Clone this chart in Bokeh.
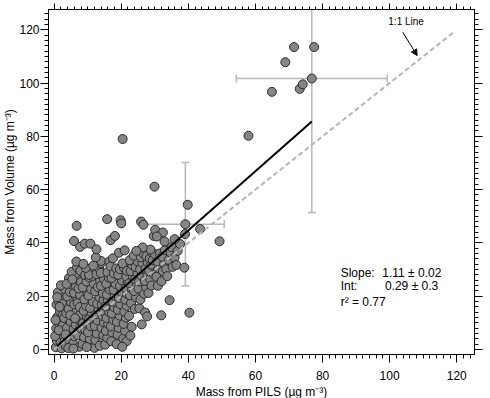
from bokeh.plotting import figure
from bokeh.models import (Range1d, LinearAxis, Whisker, TeeHead, ColumnDataSource,
                          Label, Arrow, NormalHead, FixedTicker, Title)
from bokeh.embed import file_html
from bokeh.resources import INLINE

# Aerosol mass: PILS-derived (x) vs volume-derived (y), in µg m-3
band_0_3 = [(0.5, 0.8), (0.8, 3.2), (1.2, 5.5), (0.6, 7.9), (1.5, 9.6), (0.9, 12.1),
            (1.7, 14.3), (0.7, 16.8), (1.3, 18.2), (2.1, 1.6), (2.4, 4.4), (2.8, 6.7),
            (2.2, 10.8), (2.6, 13.0), (2.9, 15.9), (2.3, 17.6), (2.7, 20.3), (1.1, 21.4),
            (0.4, 11.0), (0.3, 5.0), (1.9, 2.5), (2.5, 8.9), (3.0, 11.8), (1.6, 16.0),
            (0.9, 19.6), (3.2, 22.5), (2.0, 24.1), (1.4, 7.2), (3.1, 3.0), (2.2, 0.4)]

band_3_8 = [(3.5, 1.2), (4.1, 3.8), (4.6, 6.2), (3.8, 8.1), (4.9, 10.4), (3.6, 13.6),
            (4.3, 15.2), (5.0, 17.8), (3.9, 19.9), (4.7, 21.6), (5.3, 24.3), (4.4, 26.8),
            (5.6, 2.2), (6.1, 4.9), (5.8, 7.6), (6.4, 9.3), (5.5, 12.4), (6.7, 14.6),
            (6.0, 16.9), (6.9, 19.1), (5.9, 21.2), (6.5, 23.7), (7.2, 26.0), (6.3, 28.4),
            (7.5, 1.0), (7.1, 5.3), (7.8, 8.0), (7.4, 11.1), (7.9, 13.4), (7.0, 17.4),
            (7.7, 20.5), (7.3, 22.9), (8.0, 25.2), (5.2, 29.1), (6.8, 30.8), (4.2, 0.5),
            (3.4, 5.6), (5.7, 0.3), (4.8, 12.9), (6.2, 11.7), (7.6, 15.9), (3.7, 24.6),
            (5.4, 26.3), (6.6, 33.0), (7.8, 29.5), (5.9, 40.7), (6.7, 46.4), (7.7, 38.5)]

band_8_15 = [(8.4, 2.1), (8.9, 4.6), (9.3, 7.3), (8.6, 9.8), (9.8, 12.0), (8.8, 14.5),
             (9.5, 16.3), (9.0, 18.8), (9.9, 21.0), (8.5, 23.3), (9.6, 25.5), (9.2, 27.9),
             (10.3, 1.3), (10.6, 3.9), (10.1, 6.4), (10.9, 8.7), (10.4, 11.4), (11.2, 13.8),
             (10.7, 15.6), (11.5, 17.9), (10.2, 20.2), (11.0, 22.6), (11.8, 24.8), (10.5, 27.1),
             (11.3, 29.6), (11.4, 27.6), (10.4, 28.0), (12.0, 0.6), (12.3, 3.5), (12.7, 6.0),
             (12.1, 8.8), (12.9, 10.9), (12.5, 13.2), (13.2, 15.0), (12.8, 17.2), (13.5, 19.6),
             (12.2, 21.8), (13.0, 23.4), (13.7, 25.9), (12.6, 28.3), (13.4, 30.5), (14.0, 32.4),
             (14.3, 2.7), (14.6, 5.4), (14.1, 8.1), (14.8, 10.2), (14.4, 12.6), (14.9, 14.3),
             (14.2, 16.8), (14.7, 18.6), (14.5, 21.1), (14.0, 23.9), (14.8, 26.4), (13.9, 28.7),
             (14.0, 33.2), (9.4, 30.6), (8.7, 32.1), (11.7, 31.5), (12.4, 34.6), (13.6, 1.4),
             (9.7, 0.9), (9.1, 39.7), (10.8, 39.7), (12.6, 37.6)]

band_15_22 = [(15.2, 1.8), (15.8, 4.4), (15.4, 7.0), (16.1, 9.5), (15.6, 11.8), (16.4, 13.9),
              (15.3, 16.2), (16.0, 18.4), (15.7, 20.6), (16.6, 22.5), (15.5, 24.7), (16.3, 26.9),
              (15.9, 29.0), (16.4, 33.0), (16.8, 31.2), (17.0, 3.1), (17.3, 6.4), (16.9, 8.6),
              (17.6, 11.1), (17.2, 13.5), (17.9, 15.8), (17.4, 17.9), (18.1, 20.1), (17.7, 22.4),
              (18.3, 24.6), (17.1, 26.8), (17.8, 28.5), (18.5, 30.4), (17.5, 34.2), (18.6, 2.0),
              (18.9, 5.6), (19.2, 8.1), (18.7, 10.4), (19.5, 12.7), (19.0, 14.9), (19.7, 17.0),
              (19.3, 19.3), (20.0, 21.6), (19.6, 23.8), (20.2, 25.9), (19.1, 28.0), (19.9, 30.2),
              (19.6, 30.1), (20.8, 30.7), (20.4, 32.3), (19.3, 36.3), (21.0, 37.2), (20.6, 4.1),
              (21.1, 7.0), (20.7, 9.6), (21.4, 11.9), (20.9, 14.2), (21.6, 16.4), (21.2, 18.7),
              (21.8, 20.8), (21.3, 23.0), (21.9, 25.3), (21.5, 27.4), (21.7, 29.5), (21.6, 3.1),
              (20.3, 1.0), (16.8, 41.0), (18.1, 42.6), (15.8, 48.9), (19.8, 48.5), (20.0, 47.3)]

band_22_30 = [(22.3, 12.6), (22.9, 17.4), (22.6, 20.3), (23.2, 22.7), (22.4, 24.9), (23.5, 27.1),
              (22.8, 29.4), (23.3, 31.6), (22.5, 33.5), (24.0, 15.2), (24.4, 19.5), (23.8, 21.9),
              (24.6, 24.2), (24.1, 26.3), (24.8, 28.8), (24.3, 30.9), (24.9, 33.0), (23.7, 35.2),
              (25.1, 22.9), (25.4, 15.4), (25.7, 18.7), (25.3, 25.5), (26.0, 27.7), (25.6, 30.1),
              (26.3, 32.4), (25.8, 34.6), (26.5, 36.1), (26.1, 9.4), (27.1, 13.9), (27.7, 12.4),
              (26.8, 20.9), (27.4, 23.3), (27.0, 25.7), (27.8, 28.0), (27.2, 30.3), (27.9, 32.7),
              (27.5, 35.0), (28.1, 21.2), (28.6, 26.4), (28.3, 29.6), (28.9, 31.8), (28.5, 34.1),
              (29.2, 36.3), (29.0, 24.0), (29.7, 28.2), (29.4, 33.5), (30.0, 35.8), (28.7, 37.5),
              (26.4, 38.3), (24.5, 37.0), (23.1, 8.5), (22.7, 5.2), (25.9, 48.0), (26.6, 46.8),
              (29.7, 42.6)]

band_30_50 = [(30.9, 23.9), (30.5, 27.3), (31.2, 30.5), (30.7, 33.0), (31.5, 36.0), (31.9, 12.8),
              (32.0, 25.6), (32.4, 29.4), (32.8, 32.2), (32.2, 34.8), (33.4, 30.1), (33.0, 37.3),
              (33.7, 27.5), (34.4, 18.5), (34.1, 33.6), (34.7, 36.4), (35.3, 31.0), (35.0, 38.4),
              (35.9, 34.5), (36.4, 31.7), (36.8, 37.0), (37.5, 39.6), (38.8, 30.7), (39.0, 43.3),
              (40.3, 13.8), (35.9, 41.4), (32.9, 40.5), (30.1, 44.9), (32.4, 43.9), (30.6, 42.4),
              (39.1, 47.0), (43.5, 45.2), (39.8, 54.3), (49.3, 40.6)]

high_mass = [(29.9, 61.1), (20.4, 79.0), (57.9, 80.2), (64.9, 96.7), (73.2, 97.8), (74.1, 99.5),
             (76.8, 101.7), (68.9, 107.8), (71.5, 113.5), (77.5, 113.5)]

# Binned means with one-sigma spread
err_x = [10.2, 39.1, 76.8]
err_y = [10.7, 47.0, 101.7]
err_dx = [3.0, 11.6, 22.5]
err_dy = [5.0, 23.2, 50.3]

# Least-squares fit and 1:1 reference
fit_slope, fit_slope_err = 1.11, 0.02
fit_int, fit_int_err = 0.29, 0.3
fit_r2 = 0.77
fit_x_span = [0.8, 76.8]
one_to_one_span = [0.0, 119.0]

x_ticks = [0, 20, 40, 60, 80, 100, 120]
y_ticks = [0, 20, 40, 60, 80, 100, 120]

x_title = "Mass from PILS (µg m⁻³)"
y_title = "Mass from Volume (µg m⁻³)"

FONT = "Liberation Sans"

points = band_0_3 + band_3_8 + band_8_15 + band_15_22 + band_22_30 + band_30_50 + high_mass
pils = [pt[0] for pt in points]
volume = [pt[1] for pt in points]

p = figure(width=490, height=398,
           x_range=Range1d(-1.7, 125.3), y_range=Range1d(-1.9, 127.6),
           output_backend="svg", toolbar_location=None,
           min_border_left=0, min_border_right=16, min_border_top=9, min_border_bottom=0)
p.grid.visible = False
p.outline_line_color = "black"
p.outline_line_width = 1
p.background_fill_color = "white"
p.border_fill_color = "white"

xt = FixedTicker(ticks=x_ticks, minor_ticks=list(range(0, 126, 2)))
yt = FixedTicker(ticks=y_ticks, minor_ticks=list(range(0, 128, 2)))
p.xaxis.ticker = xt
p.yaxis.ticker = yt


def style_axis(ax, ticks, labelled=True, major=8, minor=4):
    ax.axis_line_color = "black"
    ax.major_tick_line_color = "black"
    ax.minor_tick_line_color = "black"
    ax.major_tick_in = 0
    ax.minor_tick_in = 0
    ax.major_tick_out = major
    ax.minor_tick_out = minor
    if labelled:
        ax.major_label_text_font = FONT
        ax.major_label_text_font_size = "12px"
        ax.major_label_text_color = "black"
    else:
        ax.major_label_overrides = {t: "" for t in ticks}
        ax.major_label_text_font_size = "0px"
        ax.major_label_standoff = 0


for ax in p.xaxis:
    style_axis(ax, x_ticks)
    ax.major_label_standoff = 8
for ax in p.yaxis:
    style_axis(ax, y_ticks)
    ax.major_label_standoff = 1

top_axis = LinearAxis(ticker=xt)
style_axis(top_axis, x_ticks, labelled=False, major=6, minor=3)
p.add_layout(top_axis, "above")
right_axis = LinearAxis(ticker=yt)
style_axis(right_axis, y_ticks, labelled=False, major=8, minor=4)
p.add_layout(right_axis, "right")

# axis titles as side-panel titles, centred on the frame
title_kw = dict(text_font=FONT, text_font_size="12px", text_color="black",
                text_font_style="normal", align="center", standoff=0, offset=0)
p.add_layout(Title(text=x_title, **title_kw), "below")
p.add_layout(Title(text=y_title, **title_kw), "left")

# data points
p.scatter(pils, volume, size=9, fill_color="#858585", line_color="#2b2b2b", line_width=1)

# 1:1 line (dashed) and regression line
p.line(one_to_one_span, one_to_one_span, line_color="#b5b5b5", line_width=2, line_dash="5 3")
p.line(fit_x_span, [fit_int + fit_slope * v for v in fit_x_span], line_color="black", line_width=2)

# error bars
err_src = ColumnDataSource(dict(
    x=err_x, y=err_y,
    x_lo=[a - b for a, b in zip(err_x, err_dx)], x_hi=[a + b for a, b in zip(err_x, err_dx)],
    y_lo=[a - b for a, b in zip(err_y, err_dy)], y_hi=[a + b for a, b in zip(err_y, err_dy)],
))
ERR = "#b8b8b8"
p.add_layout(Whisker(source=err_src, base="x", lower="y_lo", upper="y_hi", dimension="height",
                     line_color=ERR, line_width=1.5,
                     upper_head=TeeHead(size=8, line_color=ERR, line_width=1.5),
                     lower_head=TeeHead(size=8, line_color=ERR, line_width=1.5)))
p.add_layout(Whisker(source=err_src, base="y", lower="x_lo", upper="x_hi", dimension="width",
                     line_color=ERR, line_width=1.5,
                     upper_head=TeeHead(size=8, line_color=ERR, line_width=1.5),
                     lower_head=TeeHead(size=8, line_color=ERR, line_width=1.5)))

# fit statistics
stat_kw = dict(text_font=FONT, text_font_size="12px", text_color="black")
p.add_layout(Label(x=85.4, y=26.1, text="Slope:", **stat_kw))
p.add_layout(Label(x=97.8, y=26.1, text=f"{fit_slope:.2f} ± {fit_slope_err:.2f}", **stat_kw))
p.add_layout(Label(x=85.4, y=21.3, text="Int:", **stat_kw))
p.add_layout(Label(x=98.6, y=21.3, text=f"{fit_int:.2f} ± {fit_int_err:.1f}", **stat_kw))
p.add_layout(Label(x=85.4, y=15.0, text=f"r² = {fit_r2:.2f}", **stat_kw))

# 1:1 line annotation
p.add_layout(Label(x=99.6, y=121.0, text="1:1 Line", text_font=FONT, text_font_size="10px",
                   text_color="black"))
p.add_layout(Arrow(x_start=103.9, y_start=119.1, x_end=108.2, y_end=110.3,
                   line_color="black", line_width=1,
                   end=NormalHead(size=6, fill_color="black", line_color="black")))

open("out.html", "w").write(file_html(p, INLINE))
